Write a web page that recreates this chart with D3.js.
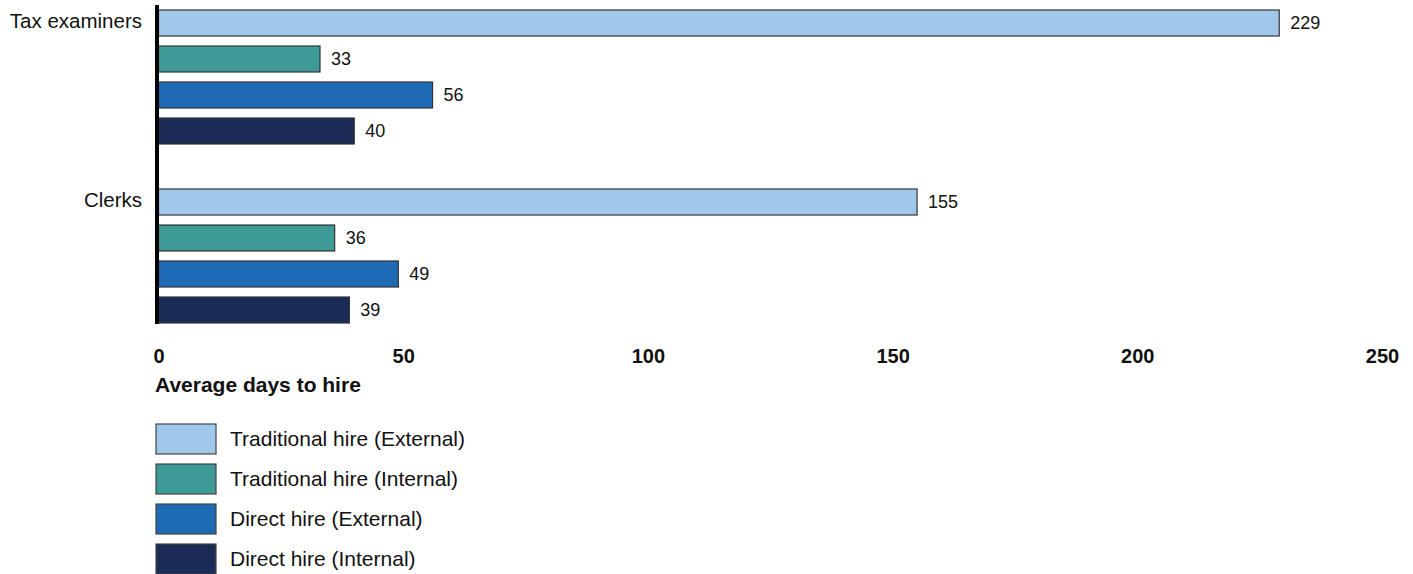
<!DOCTYPE html>
<html>
<head>
<meta charset="utf-8">
<script src="https://cdn.jsdelivr.net/npm/d3@7"></script>
<style>
  html, body { margin: 0; padding: 0; background: #fff; }
  svg { display: block; font-family: "Liberation Sans", Arial, sans-serif; }
</style>
</head>
<body>
<svg id="chart" width="1413" height="574"></svg>
<script>
// Occupations shown on the vertical axis
const categories = ["Tax examiners", "Clerks"];
// Hiring paths, in drawing order within each occupation
const series = [
  "Traditional hire (External)",
  "Traditional hire (Internal)",
  "Direct hire (External)",
  "Direct hire (Internal)"
];
const seriesColors = ["#9fc8ea", "#3d9a94", "#1f6ab5", "#1a2c55"];
// Average days to hire, per series, in category order
const traditionalExternal = [229, 155];
const traditionalInternal = [33, 36];
const directExternal = [56, 49];
const directInternal = [40, 39];
const xTicks = [0, 50, 100, 150, 200, 250];

const valuesBySeries = [traditionalExternal, traditionalInternal, directExternal, directInternal];
const rows = [];
categories.forEach((c, ci) => {
  series.forEach((s, si) => rows.push({ category: c, series: s, si, value: valuesBySeries[si][ci] }));
});

const svg = d3.select("#chart");

const x = d3.scaleLinear().domain([0, 250]).range([158.5, 1382]);
const y0 = d3.scaleBand().domain(categories).range([10, 323]).paddingInner(45 / 179).paddingOuter(0);
const y1 = d3.scaleBand().domain(series).range([0, y0.bandwidth()]).paddingInner(10 / 36).paddingOuter(0);

// Bars
const g = svg.append("g");
g.selectAll("rect.bar")
  .data(rows)
  .join("rect")
  .attr("class", "bar")
  .attr("x", x(0))
  .attr("y", d => y0(d.category) + y1(d.series))
  .attr("width", d => x(d.value) - x(0))
  .attr("height", y1.bandwidth())
  .attr("fill", d => seriesColors[d.si])
  .attr("stroke", "#333")
  .attr("stroke-width", 1.2);

// Value labels at bar ends
g.selectAll("text.val")
  .data(rows)
  .join("text")
  .attr("class", "val")
  .attr("x", d => x(d.value) + 11)
  .attr("y", d => y0(d.category) + y1(d.series) + y1.bandwidth() / 2)
  .attr("dy", "0.35em")
  .attr("font-size", 18)
  .attr("fill", "#111")
  .text(d => d.value);

// Category axis line
svg.append("line")
  .attr("x1", x(0) - 1.5).attr("x2", x(0) - 1.5)
  .attr("y1", 5).attr("y2", 324)
  .attr("stroke", "#000").attr("stroke-width", 4);

// Category labels, aligned with the first bar of each group
svg.selectAll("text.cat")
  .data(categories)
  .join("text")
  .attr("class", "cat")
  .attr("x", 142)
  .attr("y", d => y0(d) + 11)
  .attr("dy", "0.35em")
  .attr("text-anchor", "end")
  .attr("font-size", 20.5)
  .attr("fill", "#111")
  .text(d => d);

// Value axis (labels only)
const xAxis = svg.append("g")
  .attr("transform", "translate(0,356)")
  .call(d3.axisBottom(x).tickValues(xTicks).tickSize(0).tickPadding(0));
xAxis.select(".domain").remove();
xAxis.selectAll("text")
  .attr("dy", "0.35em")
  .attr("y", 0)
  .attr("font-size", 20)
  .attr("font-weight", "bold")
  .attr("font-family", "Liberation Sans, Arial, sans-serif")
  .attr("fill", "#111");

svg.append("text")
  .attr("x", 155)
  .attr("y", 385)
  .attr("dy", "0.35em")
  .attr("font-size", 21)
  .attr("font-weight", "bold")
  .attr("fill", "#111")
  .text("Average days to hire");

// Legend
const legend = svg.append("g");
const lg = legend.selectAll("g")
  .data(series)
  .join("g")
  .attr("transform", (d, i) => `translate(156,${424 + i * 40})`);
lg.append("rect")
  .attr("width", 60).attr("height", 30)
  .attr("fill", (d, i) => seriesColors[i])
  .attr("stroke", "#444").attr("stroke-width", 1.2);
lg.append("text")
  .attr("x", 74).attr("y", 15)
  .attr("dy", "0.35em")
  .attr("font-size", 21)
  .attr("fill", "#111")
  .text(d => d);
</script>
</body>
</html>
